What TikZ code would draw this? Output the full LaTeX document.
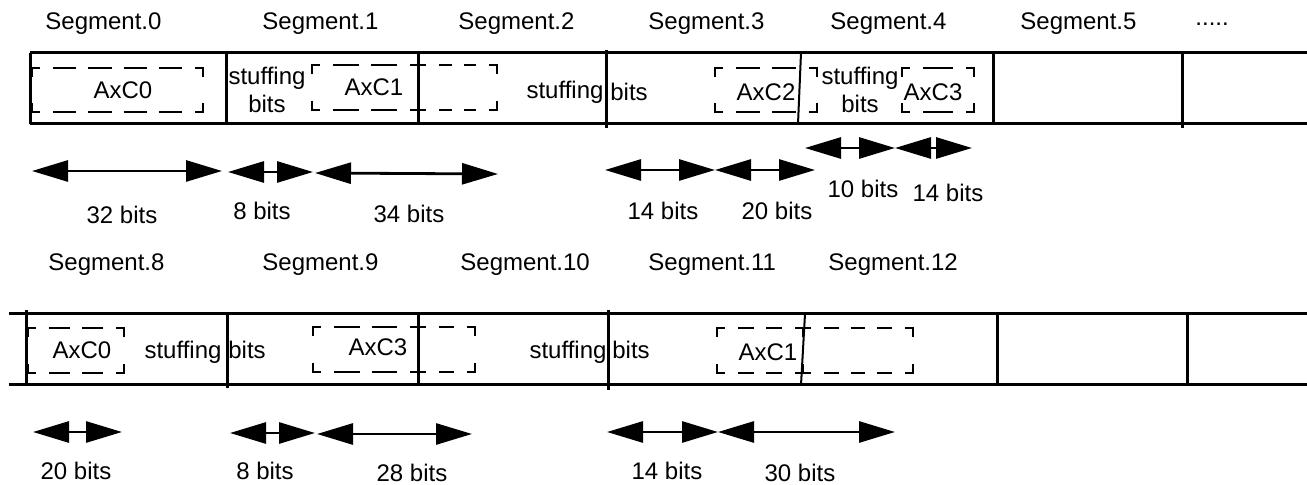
\documentclass[tikz,border=0pt]{standalone}
\usepackage{fontspec}
\setmainfont{Liberation Sans}
\usetikzlibrary{arrows.meta}

\tikzset{
  frame/.style={line width=1.5pt},
  corner/.style={line width=1pt},
  slot/.style={line width=1pt},
  span/.style={{Triangle[length=18pt,width=10.5pt]}-{Triangle[length=18pt,width=10.5pt]}, line width=1.4pt},
  lbl/.style={inner sep=0pt, font=\fontsize{12}{14}\selectfont},
}

% dashed slot with solid corners: x1,y1,x2,y2
\newcommand\slotbox[4]{%
  \pgfmathsetmacro\slotlen{#3-#1-42}%
  \pgfmathsetmacro\slotn{max(1,round((\slotlen+12)/32))}%
  \pgfmathsetmacro\slotdash{(\slotlen-12*(\slotn-1))/\slotn/2}%
  \draw[corner] (#1,#2+9) |- (#1+8,#2);
  \draw[corner] (#3-8,#2) -| (#3,#2+9);
  \draw[corner] (#1,#4-9) |- (#1+8,#4);
  \draw[corner] (#3-8,#4) -| (#3,#4-9);
  \draw[slot, dash pattern=on \slotdash pt off 6pt] (#1+21,#2) -- (#3-21,#2);
  \draw[slot, dash pattern=on \slotdash pt off 6pt] (#1+21,#4) -- (#3-21,#4);
}

\begin{document}
\begin{tikzpicture}[x=0.5pt,y=-0.5pt]
  \useasboundingbox (0,0) rectangle (1307,485);

  % first row of segments
  \foreach \i/\x in {0/45,1/262,2/458,3/648,4/830,5/1020}{
    \node[lbl, anchor=west] (seg\i) at (\x,24) {Segment.\i};
  }
  \node[lbl, anchor=west] (more) at (1195,24) {.....};
  \draw[frame] (30,53) -- (1307,53);
  \draw[frame] (30,124) -- (1307,124);
  \foreach \x/\ya/\yb in {30/53/124,226/53/124,418/53/124,606/50/128,993/53/124,1182/53/128}{
    \draw[frame] (\x,\ya) -- (\x,\yb);
  }
  \draw[line width=1pt] (801,53) -- (798,124);
  \slotbox{32}{68}{203}{112}
  \slotbox{312}{65}{418}{110}
  \slotbox{418}{65}{497}{110}
  \slotbox{715}{68}{817}{112}
  \slotbox{902}{68}{974}{112}
  \node[lbl] (c0a) at (123,90) {AxC0};
  \node[lbl, align=center] (s1a) at (267,90) {stuffing\\bits};
  \node[lbl] (c1a) at (374,87) {AxC1};
  \node[lbl] (s2a) at (565,92) {stuffing};
  \node[lbl] (b3a) at (629,92) {bits};
  \node[lbl] (c2a) at (766,92) {AxC2};
  \node[lbl, align=center] (s4a) at (860,90) {stuffing\\bits};
  \node[lbl] (c3a) at (933,92) {AxC3};

  % bit counts, first row
  \foreach \n/\xa/\ya/\xb/\yb/\lab/\lx/\ly in {
      r1a/32/171/222/171/32 bits/122/215,
      r1b/228/172/313/172/8 bits/262/211,
      r1c/315/173/498/174/34 bits/409/214,
      r1d/605/170/715/170/14 bits/663/211,
      r1e/715/170/815/170/20 bits/777/211,
      r1f/805/148/895/148/10 bits/863/189,
      r1g/895/148/972/148/14 bits/948/193}{
    \coordinate (\n-l) at (\xa,\ya);
    \coordinate (\n-r) at (\xb,\yb);
    \draw[span] (\n-l) -- (\n-r);
    \node[lbl] (\n-t) at (\lx,\ly) {\lab};
  }

  % second row of segments
  \foreach \i/\x in {8/48,9/262,10/460,11/648,12/828}{
    \node[lbl, anchor=west] (seg\i) at (\x,265) {Segment.\i};
  }
  \draw[frame] (9,314) -- (1307,314);
  \draw[frame] (9,385) -- (1307,385);
  \foreach \x/\ya/\yb in {26/310/385,227/314/388,418/314/385,608/310/390,997/314/385,1187/314/385}{
    \draw[frame] (\x,\ya) -- (\x,\yb);
  }
  \draw[line width=1pt] (805,314) -- (801,385);
  \slotbox{28}{328}{124}{373}
  \slotbox{313}{327}{418}{372}
  \slotbox{418}{327}{475}{372}
  \slotbox{717}{328}{803}{373}
  \slotbox{803}{328}{913}{373}
  \node[lbl] (c0b) at (82,350) {AxC0};
  \node[lbl] (s1b) at (183,352) {stuffing};
  \node[lbl] (b2b) at (247,350) {bits};
  \node[lbl] (c3b) at (378,347) {AxC3};
  \node[lbl] (s3b) at (568,352) {stuffing};
  \node[lbl] (b4b) at (631,350) {bits};
  \node[lbl] (c1b) at (768,352) {AxC1};

  % bit counts, second row
  \foreach \n/\xa/\ya/\xb/\yb/\lab/\lx/\ly in {
      r2a/33/432/122/432/20 bits/76/471,
      r2b/230/433/315/433/8 bits/265/471,
      r2c/317/434/472/434/28 bits/412/473,
      r2d/607/432/718/432/14 bits/667/471,
      r2e/718/432/895/432/30 bits/800/473}{
    \coordinate (\n-l) at (\xa,\ya);
    \coordinate (\n-r) at (\xb,\yb);
    \draw[span] (\n-l) -- (\n-r);
    \node[lbl] (\n-t) at (\lx,\ly) {\lab};
  }
\end{tikzpicture}
\end{document}
